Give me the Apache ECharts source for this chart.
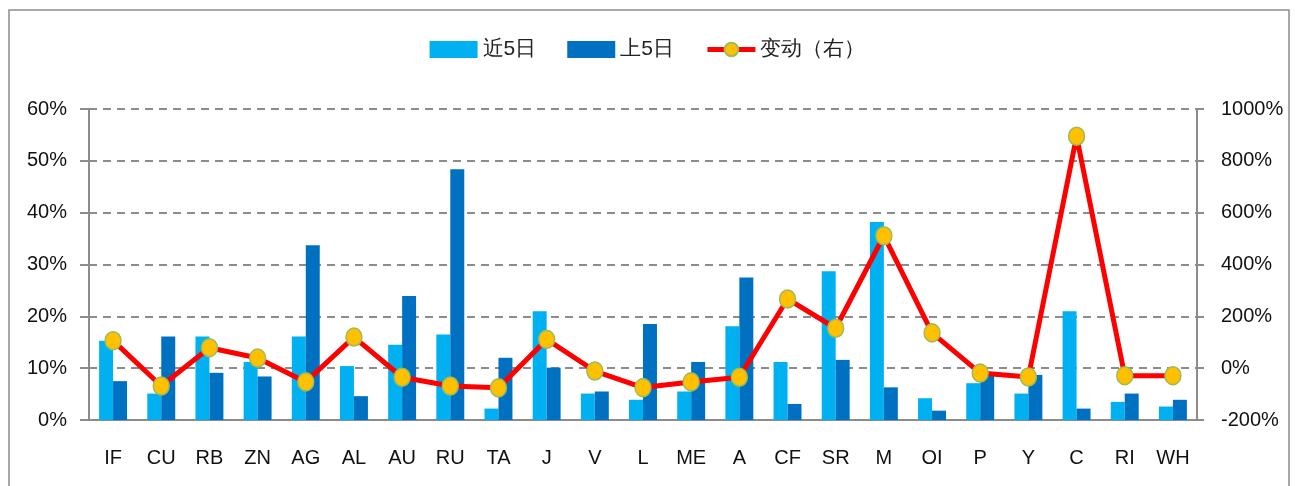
<!DOCTYPE html>
<html><head><meta charset="utf-8">
<script src="https://cdn.jsdelivr.net/npm/echarts@6/dist/echarts.min.js"></script>
<style>html,body{margin:0;padding:0;background:#fff}#c{width:1295px;height:486px}</style>
</head><body><div id="c"></div>
<script>
const categories = ['IF','CU','RB','ZN','AG','AL','AU','RU','TA','J','V','L','ME','A','CF','SR','M','OI','P','Y','C','RI','WH'];
const recent5 = [15.3,5.1,16.1,11.2,16.1,10.4,14.5,16.5,2.2,21.0,5.1,3.9,5.5,18.1,11.2,28.7,38.2,4.2,7.1,5.1,21.0,3.5,2.6];
const prev5 = [7.5,16.1,9.1,8.4,33.7,4.6,23.9,48.4,12.0,10.1,5.5,18.5,11.2,27.5,3.1,11.6,6.3,1.8,8.6,8.7,2.2,5.1,3.9];
const change = [106,-69,79,39,-53,120,-35,-69,-76,111,-11,-75,-53,-35,267,154,511,136,-19,-34,895,-29,-29];
const leftTicks = {min:0,max:60,interval:10};
const rightTicks = {min:-200,max:1000,interval:200};

const font = 'Liberation Sans';
const pct = v => String(v) + '%';
const chart = echarts.init(document.getElementById('c'));
chart.setOption({
  animation:false,
  textStyle:{fontFamily:font},
  graphic:[{type:'rect',shape:{x:9,y:10,width:1280,height:500},style:{fill:'none',stroke:'#8c8c8c',lineWidth:1.5},silent:true}],
  legend:{
    top:34, left:'center', itemWidth:48, itemHeight:17, itemGap:31,
    textStyle:{fontSize:21,color:'#222',fontFamily:font},
    data:[{name:'近5日',icon:'rect'},{name:'上5日',icon:'rect'},
          {name:'变动（右）',lineStyle:{width:5,color:'#FF0000'}}]
  },
  grid:{left:89,right:98,top:109,bottom:66},
  xAxis:{
    type:'category', data:categories,
    axisLine:{lineStyle:{color:'#8c8c8c',width:2}},
    axisTick:{show:false},
    axisLabel:{color:'#111',fontSize:20,margin:28,interval:0}
  },
  yAxis:[{
    type:'value', min:leftTicks.min, max:leftTicks.max, interval:leftTicks.interval,
    axisLine:{show:true,lineStyle:{color:'#8c8c8c',width:2}},
    axisTick:{show:true,length:9,lineStyle:{color:'#8c8c8c',width:2}},
    axisLabel:{formatter:pct,color:'#111',fontSize:20,margin:22},
    splitLine:{lineStyle:{color:'#8c8c8c',width:2,type:[8,6]}}
  },{
    type:'value', min:rightTicks.min, max:rightTicks.max, interval:rightTicks.interval,
    axisLine:{show:true,lineStyle:{color:'#8c8c8c',width:2}},
    axisTick:{show:true,length:7,lineStyle:{color:'#8c8c8c',width:2}},
    axisLabel:{formatter:pct,color:'#111',fontSize:20,margin:24},
    splitLine:{show:false}
  }],
  series:[{
    name:'近5日', type:'bar', data:recent5, barGap:'0%', barCategoryGap:'42%',
    itemStyle:{color:'#00B0F0'}
  },{
    name:'上5日', type:'bar', data:prev5,
    itemStyle:{color:'#0070C0'}
  },{
    name:'变动（右）', type:'line', yAxisIndex:1, data:change,
    symbol:'circle', symbolSize:[16,18],
    lineStyle:{color:'#FF0000',width:5},
    itemStyle:{color:'#FFC000',borderColor:'#9BBB59',borderWidth:1.5},
    z:5
  }]
});
</script></body></html>
